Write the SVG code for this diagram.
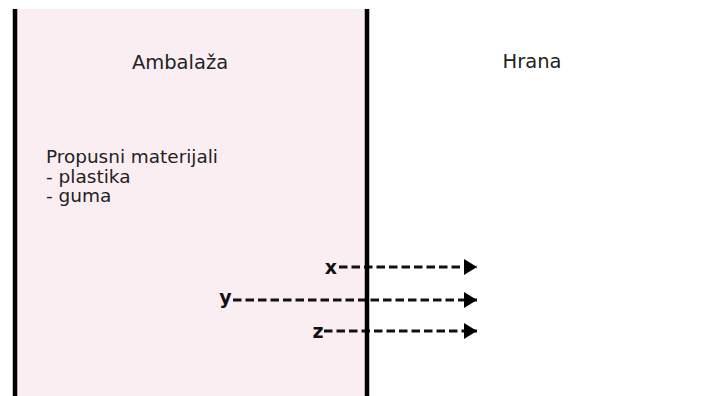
<svg xmlns="http://www.w3.org/2000/svg" width="709" height="396" viewBox="0 0 709 396">
<defs>
<style>
.lbl{font-family:"DejaVu Sans",Verdana,sans-serif;font-size:19.5px;fill:#222}
.body{font-family:"DejaVu Sans",Verdana,sans-serif;font-size:18.5px;fill:#222}
.var{font-family:"DejaVu Sans",Verdana,sans-serif;font-size:19px;font-weight:bold;fill:#111}
.dash{stroke:#111;stroke-width:3.2;stroke-dasharray:8.5 4;fill:none}
.wall{stroke:#000;stroke-width:4.5}
</style>
<marker id="ah" viewBox="0 0 13 16" refX="13" refY="8" markerWidth="13" markerHeight="16" markerUnits="userSpaceOnUse" orient="auto">
<path d="M0,0 L13,8 L0,16 Z" fill="#000"/>
</marker>
</defs>
<rect width="709" height="396" fill="#fff"/>
<g id="ambalaza">
<rect x="15" y="9" width="352" height="387" fill="#fbeef3"/>
<line class="wall" x1="15" y1="9" x2="15" y2="396"/>
<text class="lbl" x="180" y="69" text-anchor="middle">Ambalaža</text>
<text class="body" x="46" y="163" textLength="172" lengthAdjust="spacingAndGlyphs">Propusni materijali</text>
<text class="body" x="46" y="182.5">- plastika</text>
<text class="body" x="46" y="202">- guma</text>
</g>
<g id="hrana">
<text class="lbl" x="532" y="68" text-anchor="middle">Hrana</text>
</g>
<g id="labels">
<text class="var" x="331" y="273.5" text-anchor="middle">x</text>
<text class="var" x="225.5" y="304" text-anchor="middle">y</text>
<text class="var" x="318" y="337.5" text-anchor="middle">z</text>
</g>
<g id="connectors">
<line class="dash" x1="339" y1="267" x2="477" y2="267" marker-end="url(#ah)"/>
<line class="dash" x1="233" y1="300" x2="477" y2="300" marker-end="url(#ah)"/>
<line class="dash" x1="324" y1="331" x2="477" y2="331" marker-end="url(#ah)"/>
</g>
<line class="wall" x1="367" y1="9" x2="367" y2="396"/>
</svg>
